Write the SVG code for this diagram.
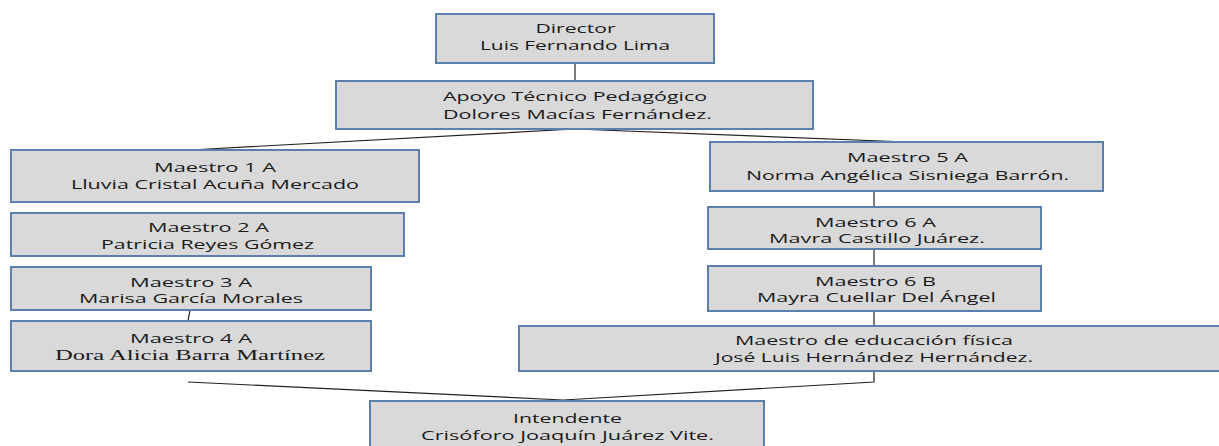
<svg xmlns="http://www.w3.org/2000/svg" width="1219" height="446" viewBox="0 0 1219 446">
<style>
.box{fill:#d9d9d9;stroke:#5b80ad;stroke-width:2}
.t{font-family:"Open Sans","Liberation Sans",sans-serif;font-size:13.5px;fill:#1a1a1a;text-anchor:middle}
.s{font-family:"Liberation Serif",serif;font-size:15px;fill:#1a1a1a;text-anchor:middle}
.c{fill:none;stroke:#222;stroke-width:1.2}
</style>
<rect width="1219" height="446" fill="#fff"/>
<g id="connectors">
<line class="c" x1="575" y1="63" x2="575" y2="81"/>
<polyline class="c" points="190,150 575,129 907,142"/>
<line class="c" x1="190" y1="310" x2="188" y2="321"/>
<line class="c" x1="874" y1="191" x2="874" y2="207"/>
<line class="c" x1="874" y1="249" x2="874" y2="266"/>
<line class="c" x1="874" y1="311" x2="874" y2="326"/>
<polyline class="c" points="188,382 563,400 874,382 874,371"/>
</g>
<g id="director">
<rect class="box" x="436" y="14" width="278" height="49"/>
<text class="t" x="575.5" y="33" textLength="80" lengthAdjust="spacingAndGlyphs">Director</text>
<text class="t" x="575" y="50" textLength="190" lengthAdjust="spacingAndGlyphs">Luis Fernando Lima</text>
</g>
<g id="apoyo">
<rect class="box" x="336" y="81" width="477" height="48"/>
<text class="t" x="575" y="101" textLength="264" lengthAdjust="spacingAndGlyphs">Apoyo Técnico Pedagógico</text>
<text class="t" x="577.5" y="119" textLength="269" lengthAdjust="spacingAndGlyphs">Dolores Macías Fernández.</text>
</g>
<g id="maestro1a">
<rect class="box" x="11" y="150" width="408" height="52"/>
<text class="t" x="215" y="172" textLength="122" lengthAdjust="spacingAndGlyphs">Maestro 1 A</text>
<text class="t" x="215" y="189" textLength="288" lengthAdjust="spacingAndGlyphs">Lluvia Cristal Acuña Mercado</text>
</g>
<g id="maestro2a">
<rect class="box" x="11" y="213" width="393" height="43"/>
<text class="t" x="208.5" y="232" textLength="121" lengthAdjust="spacingAndGlyphs">Maestro 2 A</text>
<text class="t" x="207.5" y="249" textLength="213" lengthAdjust="spacingAndGlyphs">Patricia Reyes Gómez</text>
</g>
<g id="maestro3a">
<rect class="box" x="11" y="267" width="360" height="43"/>
<text class="t" x="191" y="286.5" textLength="122" lengthAdjust="spacingAndGlyphs">Maestro 3 A</text>
<text class="t" x="191" y="303" textLength="224" lengthAdjust="spacingAndGlyphs">Marisa García Morales</text>
</g>
<g id="maestro4a">
<rect class="box" x="11" y="321" width="360" height="50"/>
<text class="t" x="191" y="343" textLength="122" lengthAdjust="spacingAndGlyphs">Maestro 4 A</text>
<text class="s" x="190" y="360" textLength="270" lengthAdjust="spacingAndGlyphs">Dora Alicia Barra Martínez</text>
</g>
<g id="maestro5a">
<rect class="box" x="710" y="142" width="393" height="49"/>
<text class="t" x="907.5" y="162" textLength="121" lengthAdjust="spacingAndGlyphs">Maestro 5 A</text>
<text class="t" x="907.5" y="180" textLength="323" lengthAdjust="spacingAndGlyphs">Norma Angélica Sisniega Barrón.</text>
</g>
<g id="maestro6a">
<rect class="box" x="708" y="207" width="333" height="42"/>
<text class="t" x="875.5" y="226.5" textLength="121" lengthAdjust="spacingAndGlyphs">Maestro 6 A</text>
<text class="t" x="877" y="243" textLength="216" lengthAdjust="spacingAndGlyphs">Mavra Castillo Juárez.</text>
</g>
<g id="maestro6b">
<rect class="box" x="708" y="266" width="333" height="45"/>
<text class="t" x="875.5" y="285.5" textLength="121" lengthAdjust="spacingAndGlyphs">Maestro 6 B</text>
<text class="t" x="876.5" y="302" textLength="239" lengthAdjust="spacingAndGlyphs">Mayra Cuellar Del Ángel</text>
</g>
<g id="educacion-fisica">
<rect class="box" x="519" y="326" width="702" height="45"/>
<text class="t" x="874" y="345" textLength="278" lengthAdjust="spacingAndGlyphs">Maestro de educación física</text>
<text class="t" x="874" y="362" textLength="318" lengthAdjust="spacingAndGlyphs">José Luis Hernández Hernández.</text>
</g>
<g id="intendente">
<rect class="box" x="370" y="401" width="394" height="50"/>
<text class="t" x="567.5" y="423" textLength="109" lengthAdjust="spacingAndGlyphs">Intendente</text>
<text class="t" x="567.5" y="440" textLength="293" lengthAdjust="spacingAndGlyphs">Crisóforo Joaquín Juárez Vite.</text>
</g>
</svg>
